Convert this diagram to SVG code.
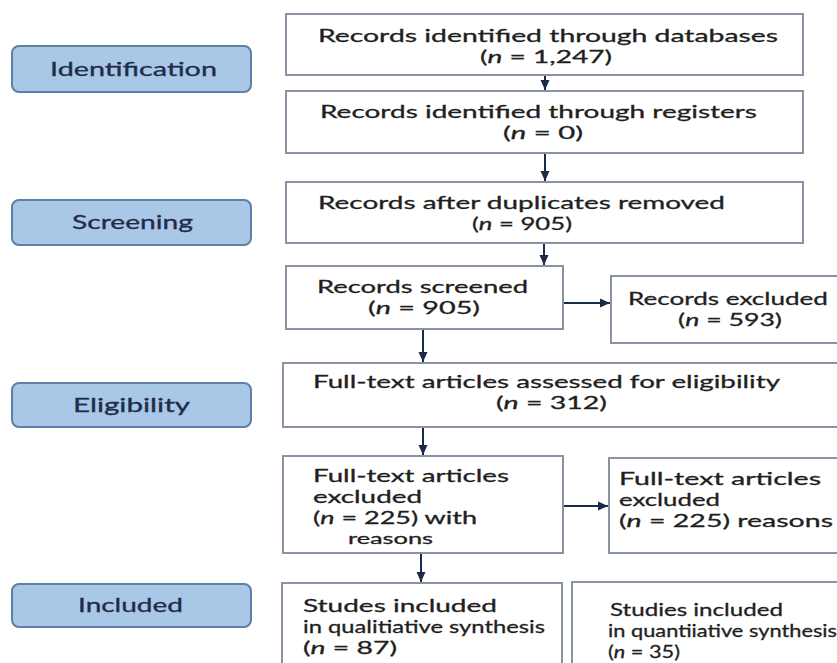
<svg xmlns="http://www.w3.org/2000/svg" width="837" height="663" viewBox="0 0 837 663">
<style>
  .stage rect { fill: #a9c7e7; stroke: #5f7fa6; stroke-width: 2; }
  .stage text { font-family: Lato, "Liberation Sans", sans-serif; font-size: 19px; fill: #1e2c48; stroke: #1e2c48; stroke-width: 0.3; }
  .box rect { fill: #ffffff; stroke: #8a93a3; stroke-width: 2; }
  .box text { font-family: Lato, "Liberation Sans", sans-serif; font-size: 17.5px; fill: #1f1f1f; stroke: #1f1f1f; stroke-width: 0.3; }
  .box text.sm { font-size: 15px; }
  .conn line { stroke: #1b2a48; stroke-width: 2; fill: none; }
  tspan.i { font-style: italic; }
</style>
<defs>
  <marker id="ah" viewBox="0 0 10 10" refX="10" refY="5" markerWidth="10" markerHeight="10" markerUnits="userSpaceOnUse" orient="auto">
    <path d="M0,0.5 L10,5 L0,9.5 Z" fill="#1b2a48"/>
  </marker>
</defs>
<rect width="837" height="663" fill="#ffffff"/>

<g id="stage-identification" class="stage">
  <rect x="12" y="46" width="239" height="46" rx="7"/>
  <text x="50" y="76" textLength="167" lengthAdjust="spacingAndGlyphs">Identification</text>
</g>
<g id="stage-screening" class="stage">
  <rect x="12" y="200" width="239" height="45" rx="7"/>
  <text x="72" y="229" textLength="121" lengthAdjust="spacingAndGlyphs">Screening</text>
</g>
<g id="stage-eligibility" class="stage">
  <rect x="12" y="383" width="239" height="44" rx="7"/>
  <text x="73" y="412" textLength="117" lengthAdjust="spacingAndGlyphs">Eligibility</text>
</g>
<g id="stage-included" class="stage">
  <rect x="12" y="584" width="239" height="43" rx="7"/>
  <text x="78" y="612" textLength="105" lengthAdjust="spacingAndGlyphs">Included</text>
</g>

<g id="n-databases" class="box">
  <rect x="286" y="14" width="517" height="61"/>
  <text x="318" y="42" textLength="460" lengthAdjust="spacingAndGlyphs">Records identified through databases</text>
  <text x="480" y="63" textLength="132" lengthAdjust="spacingAndGlyphs">(<tspan class="i">n</tspan> = 1,247)</text>
</g>
<g id="n-registers" class="box">
  <rect x="286" y="91" width="517" height="62"/>
  <text x="320" y="118" textLength="437" lengthAdjust="spacingAndGlyphs">Records identified through registers</text>
  <text x="503" y="139" textLength="80" lengthAdjust="spacingAndGlyphs">(<tspan class="i">n</tspan> = 0)</text>
</g>
<g id="n-duplicates" class="box">
  <rect x="286" y="182" width="517" height="61"/>
  <text x="318" y="209" textLength="407" lengthAdjust="spacingAndGlyphs">Records after duplicates removed</text>
  <text x="472" y="230" textLength="100" lengthAdjust="spacingAndGlyphs">(<tspan class="i">n</tspan> = 905)</text>
</g>
<g id="n-screened" class="box">
  <rect x="286" y="266" width="277" height="63"/>
  <text x="317" y="293" textLength="211" lengthAdjust="spacingAndGlyphs">Records screened</text>
  <text x="368" y="314" textLength="112" lengthAdjust="spacingAndGlyphs">(<tspan class="i">n</tspan> = 905)</text>
</g>
<g id="n-records-excluded" class="box">
  <rect x="611" y="276" width="240" height="67"/>
  <text x="628" y="305" textLength="200" lengthAdjust="spacingAndGlyphs">Records excluded</text>
  <text x="678" y="326" textLength="104" lengthAdjust="spacingAndGlyphs">(<tspan class="i">n</tspan> = 593)</text>
</g>
<g id="n-assessed" class="box">
  <rect x="283" y="363" width="570" height="64"/>
  <text x="313" y="388" textLength="467" lengthAdjust="spacingAndGlyphs">Full-text articles assessed for eligibility</text>
  <text x="496" y="409" textLength="111" lengthAdjust="spacingAndGlyphs">(<tspan class="i">n</tspan> = 312)</text>
</g>
<g id="n-ft-excluded-left" class="box">
  <rect x="283" y="456" width="280" height="97"/>
  <text x="313" y="482" textLength="196" lengthAdjust="spacingAndGlyphs">Full-text articles</text>
  <text x="313" y="503" textLength="109" lengthAdjust="spacingAndGlyphs">excluded</text>
  <text x="313" y="524" textLength="164" lengthAdjust="spacingAndGlyphs">(<tspan class="i">n</tspan> = 225) with</text>
  <text class="sm" x="348" y="544" textLength="85" lengthAdjust="spacingAndGlyphs">reasons</text>
</g>
<g id="n-ft-excluded-right" class="box">
  <rect x="609" y="458" width="242" height="95"/>
  <text x="619" y="485" textLength="202" lengthAdjust="spacingAndGlyphs">Full-text articles</text>
  <text x="619" y="506" textLength="101" lengthAdjust="spacingAndGlyphs">excluded</text>
  <text x="619" y="527" textLength="214" lengthAdjust="spacingAndGlyphs">(<tspan class="i">n</tspan> = 225) reasons</text>
</g>
<g id="n-qualitative" class="box">
  <rect x="282" y="583" width="280" height="100"/>
  <text x="303" y="612" textLength="194" lengthAdjust="spacingAndGlyphs">Studes included</text>
  <text x="303" y="633" textLength="242" lengthAdjust="spacingAndGlyphs">in qualitiative synthesis</text>
  <text x="303" y="654" textLength="94" lengthAdjust="spacingAndGlyphs">(<tspan class="i">n</tspan> = 87)</text>
</g>
<g id="n-quantitative" class="box">
  <rect x="572" y="582" width="280" height="100"/>
  <text x="610" y="616" textLength="173" lengthAdjust="spacingAndGlyphs">Studies included</text>
  <text x="608" y="637" textLength="229" lengthAdjust="spacingAndGlyphs">in quantiiative synthesis</text>
  <text x="608" y="658" textLength="72" lengthAdjust="spacingAndGlyphs">(<tspan class="i">n</tspan> = 35)</text>
</g>

<g id="connectors" class="conn">
  <line x1="545" y1="76" x2="545" y2="90" marker-end="url(#ah)"/>
  <line x1="545" y1="154" x2="545" y2="181" marker-end="url(#ah)"/>
  <line x1="544" y1="244" x2="544" y2="265" marker-end="url(#ah)"/>
  <line x1="564" y1="303" x2="610" y2="303" marker-end="url(#ah)"/>
  <line x1="423" y1="330" x2="423" y2="362" marker-end="url(#ah)"/>
  <line x1="423" y1="428" x2="423" y2="455" marker-end="url(#ah)"/>
  <line x1="564" y1="506" x2="608" y2="506" marker-end="url(#ah)"/>
  <line x1="421" y1="554" x2="421" y2="582" marker-end="url(#ah)"/>
</g>
</svg>
